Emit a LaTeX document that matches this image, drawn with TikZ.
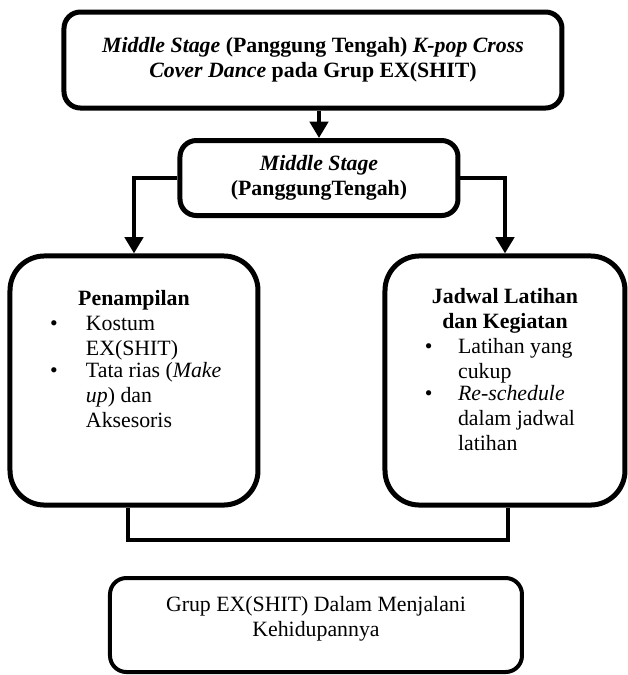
\documentclass[tikz,border=0pt]{standalone}
\usepackage{fontspec}
\setmainfont{Liberation Serif}
\usetikzlibrary{arrows.meta}
\newcommand{\bulL}[1]{\par\noindent\hspace*{22pt}\makebox[19.8pt][l]{\textbullet}\parbox[t]{90pt}{\raggedright #1}\par}
\newcommand{\bulR}[1]{\par\noindent\hspace*{22pt}\makebox[18.2pt][l]{\textbullet}\parbox[t]{90pt}{\raggedright #1}\par}
\begin{document}
\begin{tikzpicture}[x=0.55pt,y=-0.55pt,
  font=\fontsize{12}{13.8}\selectfont,
  box/.style={draw, line width=2.75pt, rounded corners=9pt, inner sep=0pt, align=center},
  bigbox/.style={box, rounded corners=19pt, align=left},
  conn/.style={line width=2.2pt},
  arr/.style={conn, -{Triangle[width=10pt,length=9pt]}}]
\useasboundingbox (0,0) rectangle (628,675);

\node[box, minimum width=498*0.55pt, minimum height=96*0.55pt] (top) at (313,60)
  {\textbf{\textit{Middle Stage}} \textbf{(Panggung Tengah)} \textbf{\textit{K-pop Cross}}\\
   \textbf{\textit{Cover Dance}} \textbf{pada Grup EX(SHIT)}};

\node[box, minimum width=278*0.55pt, minimum height=75*0.55pt] (mid) at (319,178)
  {\textbf{\textit{Middle Stage}}\\ \textbf{(PanggungTengah)}};

\node[bigbox, minimum width=248*0.55pt, minimum height=249*0.55pt] (pen) at (134,380.5)
  {\parbox[t][137pt][t]{136.4pt}{\vspace*{19pt}%
   {\centering\textbf{Penampilan}\par}%
   \bulL{Kostum\\EX(SHIT)}%
   \bulL{Tata rias (\textit{Make}\\\textit{up}) dan\\Aksesoris}}};

\node[bigbox, minimum width=240*0.55pt, minimum height=249*0.55pt] (jad) at (505,380.5)
  {\parbox[t][137pt][t]{132pt}{\vspace*{17.7pt}%
   {\centering\textbf{Jadwal Latihan}\\\textbf{dan Kegiatan}\par}%
   \bulR{Latihan yang\\cukup}%
   \bulR{\textit{Re-schedule}\\dalam jadwal\\latihan}}};

\node[box, line width=2.2pt, minimum width=412*0.55pt, minimum height=94*0.55pt] (grup) at (316,625)
  {Grup EX(SHIT) Dalam Menjalani\\Kehidupannya\rule[-9pt]{0pt}{0pt}};

\coordinate (brk) at (0,540);

\draw[arr] (mid.north |- top.south) -- (mid.north);
\draw[arr] (mid.west) -| (pen.north);
\draw[arr] (mid.east) -| (jad.north);
\draw[conn] ([xshift=-3.3pt]pen.south) -- ([xshift=-3.3pt]pen.south |- brk) -| ([xshift=1.6pt]jad.south);
\end{tikzpicture}
\end{document}
